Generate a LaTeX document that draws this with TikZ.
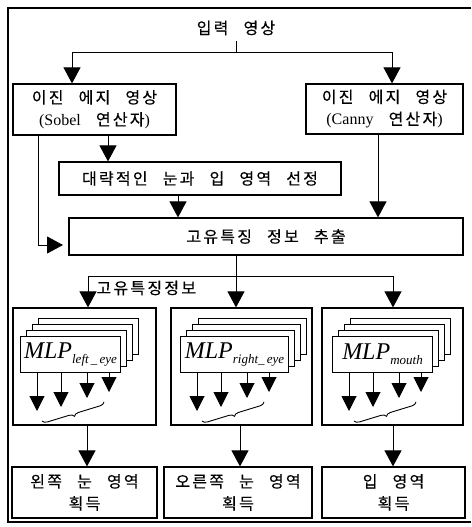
\documentclass[tikz,border=0pt]{standalone}
\usepackage{fontspec}
\setmainfont{Liberation Serif}
\newfontfamily\kr[LetterSpace=14,WordSpace=2.6,FakeBold=0.4]{Noto Sans CJK KR}
\newfontfamily\tms{Liberation Serif}
\usetikzlibrary{arrows.meta,decorations.pathreplacing}
\newcommand\lat[1]{{\tms\fontsize{16}{20}\selectfont #1}}
\newcommand\mlp[1]{{\tms\itshape\fontsize{24}{24}\selectfont MLP\raisebox{-5pt}{\fontsize{13}{13}\selectfont #1}}}
\newcommand\mlpstack[4]{%
  \foreach \k in {3,2,1} \draw[fill=white,line width=1pt] (#2+6*\k,336-6*\k) rectangle ++(#3,36);
  \node[draw,fill=white,line width=1pt,minimum width=#3 pt,minimum height=36pt,anchor=north west,inner sep=0pt] (#1) at (#2,336) {#4};
  \foreach \dx/\len in {17/38,41/34,67/25,89/19}
    \draw[subarr] (#1.south west) ++(\dx,0) -- ++(0,\len);
  \draw[decorate,decoration={brace,mirror,amplitude=5pt},line width=0.9pt] (#1.south west) ++(22,48) -- ++(62,-19);
}
\begin{document}
\begin{tikzpicture}[x=1pt,y=-1pt,
  kt/.style={font=\kr\fontsize{16}{22}\selectfont},
  box/.style={kt,draw,line width=1.2pt,inner sep=0pt,align=center},
  ln/.style={line width=1pt},
  arr/.style={ln,-{Triangle[width=17pt,length=16pt]}},
  subarr/.style={ln,-{Triangle[width=15pt,length=15pt]}},
]
\useasboundingbox (0,0) rectangle (471,527);
\draw[line width=1.1pt] (471,8) -- (8,8) -- (8,522) -- (471,522);

\node[kt,font=\kr\fontsize{16}{22}\selectfont] (inp) at (236,28) {입력 영상};
\node[box,minimum width=163pt,minimum height=51pt] (sobel) at (94.5,109.5) {이진 에지 영상\\\lat{(Sobel} 연산자\lat{)}};
\node[box,minimum width=157pt,minimum height=50pt] (canny) at (384.5,109) {이진 에지 영상\\\lat{(Canny} 연산자\lat{)}};
\node[box,minimum width=282pt,minimum height=33pt] (rough) at (200,178.5) {대략적인 눈과 입 영역 선정};
\node[box,minimum width=394pt,minimum height=37pt] (feat) at (266,236.5) {고유특징 정보 추출};

\node[box,minimum width=143pt,minimum height=117pt] (pL) at (84.5,366.5) {};
\node[box,minimum width=141pt,minimum height=117pt] (pM) at (241.5,366.5) {};
\node[box,minimum width=141pt,minimum height=117pt] (pR) at (392.5,366.5) {};

\node[box,minimum width=145pt,minimum height=51pt] (rL) at (84.5,492.5) {왼쪽 눈 영역\\획득};
\node[box,minimum width=148pt,minimum height=51pt] (rM) at (238,492.5) {오른쪽 눈 영역\\획득};
\node[box,minimum width=143pt,minimum height=51pt] (rR) at (393.5,492.5) {입 영역\\획득};

% x positions
\coordinate (x38) at (38,0);
\coordinate (x72) at (72,0);
\coordinate (x87) at (87,0);
\coordinate (x88) at (88,0);
\coordinate (x108) at (108,0);
\coordinate (x178) at (178,0);
\coordinate (x236) at (236,0);
\coordinate (x240) at (240,0);
\coordinate (x378) at (378,0);
\coordinate (x392) at (392,0);
\coordinate (x393) at (393,0);
\coordinate (split1) at (236,53);
\coordinate (split2) at (236,276);
\coordinate (fin) at (63,245);

\draw[ln] (inp.south -| split1) ++(0,2) -- (split1);
\draw[arr] (split1) -| (x72 |- sobel.north);
\draw[arr] (split1) -| (x392 |- canny.north);
\draw[arr] (sobel.south -| x108) -- (rough.north -| x108);
\draw[arr] (sobel.south -| x38) |- (fin);
\draw[arr] (rough.south -| x178) -- (feat.north -| x178);
\draw[arr] (canny.south -| x378) -- (feat.north -| x378);
\draw[ln] (feat.south -| split2) -- (split2);
\draw[arr] (split2) -| (x88 |- pL.north);
\draw[arr] (split2) -- (x236 |- pM.north);
\draw[arr] (split2) -| (x393 |- pR.north);
\node[kt,anchor=west] (lbl) at (93,288) {고유특징정보};

\mlpstack{mL}{20}{100}{\mlp{left\,\_\,eye}}
\mlpstack{mM}{180}{108}{\mlp{right\_\,eye}}
\mlpstack{mR}{332}{100}{\mlp{mouth}}

\draw[arr] (pL.south -| x87) -- (rL.north -| x87);
\draw[arr] (pM.south -| x240) -- (rM.north -| x240);
\draw[arr] (pR.south -| x393) -- (rR.north -| x393);
\end{tikzpicture}
\end{document}
